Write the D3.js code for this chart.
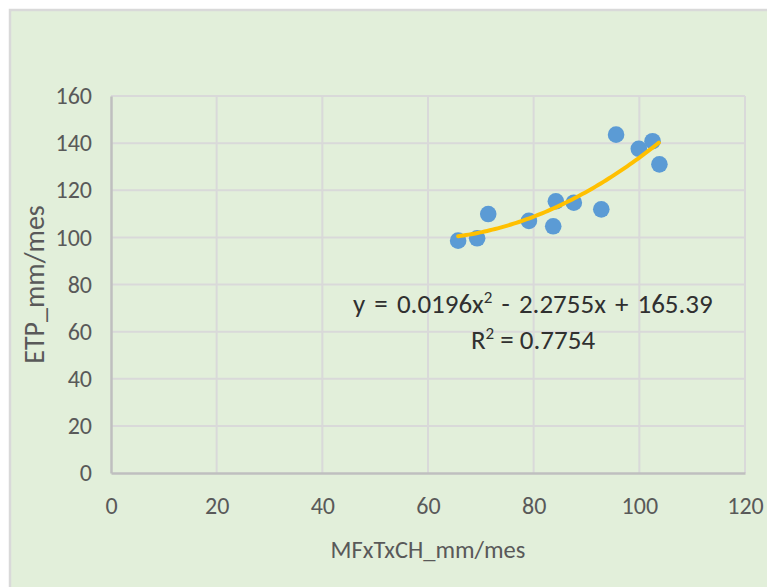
<!DOCTYPE html>
<html>
<head>
<meta charset="utf-8">
<script src="https://cdn.jsdelivr.net/npm/d3@7"></script>
<style>
  body { margin: 0; background: #ffffff; }
  text { font-family: Carlito, Calibri, "Open Sans", sans-serif; fill: #595959; }
</style>
</head>
<body>
<svg id="chart" width="767" height="587"></svg>
<script>

// data
mfx_vals = [65.7, 69.3, 71.4, 79.1, 83.7, 84.2, 87.6, 92.8, 95.6, 99.9, 102.5, 103.8]
etp_vals = [98.6, 99.6, 109.9, 107.0, 104.7, 115.3, 114.7, 111.9, 143.6, 137.6, 140.8, 131.0]

x_ticks = [0, 20, 40, 60, 80, 100, 120]
y_ticks = [0, 20, 40, 60, 80, 100, 120, 140, 160]

// trendline coefficients, as printed on the chart (a*x^2 + b*x + c)
trend_coef = [0.0196, -2.2755, 165.39]
r2_val = "0.7754"

x_title = "MFxTxCH_mm/mes"
y_title = "ETP_mm/mes"

/////


width = 767
height = 587

svg = d3.select("#chart")

/// plot area position
plot_left = 111
plot_right = 745
plot_top = 96
plot_bottom = 473

svg.append("rect")     // green chart background
  .attr("x", 10)
  .attr("y", 10)
  .attr("width", width + 10)
  .attr("height", height + 10)
  .attr("fill", "#E2EFDA")
  .attr("stroke", "#D9D9D9")
  .attr("stroke-width", 2.5)

scaleX = d3.scaleLinear()
  .domain([0, 120])
  .range([plot_left, plot_right])

scaleY = d3.scaleLinear()
  .domain([0, 160])
  .range([plot_bottom, plot_top])

data_to_bind = mfx_vals.map(function(d, i) { return {x: d, y: etp_vals[i]} })


//// gridlines
svg.append("g")
  .selectAll("line")
  .data(y_ticks.filter(function(d) { return d > 0 }))
  .enter()
  .append("line")
    .attr("x1", plot_left)
    .attr("x2", plot_right)
    .attr("y1", function(d) { return scaleY(d) })
    .attr("y2", function(d) { return scaleY(d) })
    .attr("stroke", "#D9D9D9")
    .attr("stroke-width", 2)

svg.append("g")
  .selectAll("line")
  .data(x_ticks.filter(function(d) { return d > 0 }))
  .enter()
  .append("line")
    .attr("x1", function(d) { return scaleX(d) })
    .attr("x2", function(d) { return scaleX(d) })
    .attr("y1", plot_top)
    .attr("y2", plot_bottom)
    .attr("stroke", "#D9D9D9")
    .attr("stroke-width", 2)


//// axes (no ticks, just line and labels)
xAxis = svg.append("g")
  .attr("transform", "translate(0," + plot_bottom + ")")
  .call(d3.axisBottom(scaleX).tickValues(x_ticks).tickSize(0).tickPadding(24))
xAxis.select(".domain").attr("stroke", "#BFBFBF").attr("stroke-width", 2.5)
xAxis.selectAll("text").style("font-size", "24px").attr("fill", "#595959")

yAxis = svg.append("g")
  .attr("transform", "translate(" + plot_left + ",0)")
  .call(d3.axisLeft(scaleY).tickValues(y_ticks).tickSize(0).tickPadding(19))
yAxis.select(".domain").attr("stroke", "#BFBFBF").attr("stroke-width", 2.5)
yAxis.selectAll("text").style("font-size", "24px").attr("fill", "#595959")


//// scatter points
svg.append("g")
  .selectAll("circle")
  .data(data_to_bind)
  .enter()
  .append("circle")
    .attr("cx", function(d) { return scaleX(d.x) })
    .attr("cy", function(d) { return scaleY(d.y) })
    .attr("r", 8.3)
    .attr("fill", "#5B9BD5")


//// polynomial trendline over the x range of the data
x_ext = d3.extent(mfx_vals)
trend_pts = d3.range(x_ext[0], x_ext[1] + 0.01, 0.5).map(function(x) {
  return {x: x, y: trend_coef[0] * x * x + trend_coef[1] * x + trend_coef[2]}
})

svg.append("path")
  .attr("d", d3.line()
    .x(function(d) { return scaleX(d.x) })
    .y(function(d) { return scaleY(d.y) })(trend_pts))
  .attr("fill", "none")
  .attr("stroke", "#FFC000")
  .attr("stroke-width", 4)
  .attr("stroke-linecap", "round")


//// equation label
eq = svg.append("text")
  .attr("x", 353)
  .attr("y", 313)
  .style("font-size", "27px")
  .style("word-spacing", "3px")
  .style("fill", "#303030")
eq.append("tspan").text("y = " + trend_coef[0] + "x")
eq.append("tspan").text("2").attr("dy", -10).style("font-size", "17px")
eq.append("tspan").text(" - " + Math.abs(trend_coef[1]) + "x + " + trend_coef[2]).attr("dy", 10)

r2 = svg.append("text")
  .attr("x", 533)
  .attr("y", 349)
  .attr("text-anchor", "middle")
  .style("font-size", "27px")
  .style("fill", "#303030")
r2.append("tspan").text("R")
r2.append("tspan").text("2").attr("dy", -10).style("font-size", "17px")
r2.append("tspan").text(" = " + r2_val).attr("dy", 10)


//// axis titles
svg.append("text")
  .attr("x", (plot_left + plot_right) / 2)
  .attr("y", 558)
  .attr("text-anchor", "middle")
  .style("font-size", "24.5px")
  .text(x_title)

svg.append("text")
  .attr("transform", "translate(44," + (plot_top + plot_bottom) / 2 + ") rotate(-90)")
  .attr("text-anchor", "middle")
  .style("font-size", "28px")
  .text(y_title)

</script>
</body>
</html>
